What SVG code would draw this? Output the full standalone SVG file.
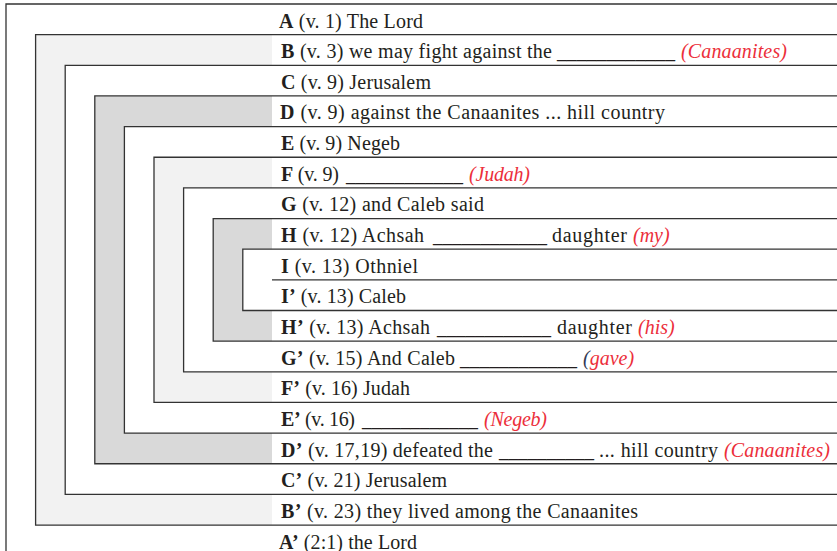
<svg xmlns="http://www.w3.org/2000/svg" width="837" height="551" viewBox="0 0 837 551">
<style>
text{font-family:"Liberation Serif","Times New Roman",serif;font-size:20px;fill:#231f20}
.b{font-weight:bold}
.r{fill:#ec2f3b;font-style:italic}
.ln{fill:none;stroke:#333;stroke-width:1.3}
.lg{fill:#f2f2f2}
.dg{fill:#d9d9d9}
.wh{fill:#fff}
</style>
<rect width="837" height="551" fill="#fff"/>
<g id="fills">
<rect class="lg" x="35.6" y="34.65" width="236.4" height="490.4"/>
<rect class="wh" x="65.2" y="65.3" width="206.8" height="429.1"/>
<rect class="dg" x="94.8" y="95.95" width="177.2" height="367.8"/>
<rect class="wh" x="124.4" y="126.6" width="147.6" height="306.5"/>
<rect class="lg" x="154" y="157.25" width="118" height="245.2"/>
<rect class="wh" x="183.6" y="187.9" width="88.4" height="183.9"/>
<rect class="dg" x="213.2" y="218.55" width="58.8" height="122.6"/>
<rect class="wh" x="242.8" y="249.2" width="29.2" height="61.3"/>
</g>
<g id="connectors">
<path class="ln" d="M837,4 H6 V551"/>
<path class="ln" d="M837,34.65 H35.6 V525.05 H837"/>
<path class="ln" d="M837,65.3 H65.2 V494.4 H837"/>
<path class="ln" d="M837,95.95 H94.8 V463.75 H837"/>
<path class="ln" d="M837,126.6 H124.4 V433.1 H837"/>
<path class="ln" d="M837,157.25 H154 V402.45 H837"/>
<path class="ln" d="M837,187.9 H183.6 V371.8 H837"/>
<path class="ln" d="M837,218.55 H213.2 V341.15 H837"/>
<path class="ln" d="M837,249.2 H242.8 V310.5 H837"/>
<path class="ln" d="M272,279.85 H837"/>
</g>
<g id="row-A"><text x="279" y="27.5" textLength="144"><tspan class="b">A</tspan> (v. 1) The Lord</text></g>
<g id="row-B"><text x="281" y="58.15" textLength="271"><tspan class="b">B</tspan> (v. 3) we may fight against the</text><text x="557" y="58.15" textLength="118" lengthAdjust="spacingAndGlyphs">____________</text><text class="r" x="681" y="58.15" textLength="106">(Canaanites)</text></g>
<g id="row-C"><text x="281" y="88.8" textLength="150"><tspan class="b">C</tspan> (v. 9) Jerusalem</text></g>
<g id="row-D"><text x="280" y="119.45" textLength="385"><tspan class="b">D</tspan> (v. 9) against the Canaanites ... hill country</text></g>
<g id="row-E"><text x="281" y="150.1" textLength="119"><tspan class="b">E</tspan> (v. 9) Negeb</text></g>
<g id="row-F"><text x="281" y="180.75" textLength="58"><tspan class="b">F</tspan> (v. 9)</text><text x="346" y="180.75" textLength="117" lengthAdjust="spacingAndGlyphs">____________</text><text class="r" x="469" y="180.75" textLength="61">(Judah)</text></g>
<g id="row-G"><text x="281" y="211.4" textLength="203"><tspan class="b">G</tspan> (v. 12) and Caleb said</text></g>
<g id="row-H"><text x="281" y="242.05" textLength="143"><tspan class="b">H</tspan> (v. 12) Achsah</text><text x="433" y="242.05" textLength="114" lengthAdjust="spacingAndGlyphs">____________</text><text x="552" y="242.05" textLength="75">daughter</text><text class="r" x="633" y="242.05">(my)</text></g>
<g id="row-I"><text x="281" y="272.7" textLength="137"><tspan class="b">I</tspan> (v. 13) Othniel</text></g>
<g id="row-I2"><text x="281" y="303.35" textLength="125"><tspan class="b">I’</tspan> (v. 13) Caleb</text></g>
<g id="row-H2"><text x="281" y="334" textLength="149"><tspan class="b">H’</tspan> (v. 13) Achsah</text><text x="437" y="334" textLength="114" lengthAdjust="spacingAndGlyphs">____________</text><text x="557" y="334" textLength="75">daughter</text><text class="r" x="638" y="334">(his)</text></g>
<g id="row-G2"><text x="281" y="364.65" textLength="174"><tspan class="b">G’</tspan> (v. 15) And Caleb</text><text x="460" y="364.65" textLength="117" lengthAdjust="spacingAndGlyphs">____________</text><text x="583" y="364.65"><tspan fill="#333a55" font-style="italic">(</tspan><tspan class="r">gave)</tspan></text></g>
<g id="row-F2"><text x="281" y="395.3" textLength="129"><tspan class="b">F’</tspan> (v. 16) Judah</text></g>
<g id="row-E2"><text x="281" y="425.95" textLength="74"><tspan class="b">E’</tspan> (v. 16)</text><text x="362" y="425.95" textLength="116" lengthAdjust="spacingAndGlyphs">____________</text><text class="r" x="484" y="425.95" textLength="63">(Negeb)</text></g>
<g id="row-D2"><text x="281" y="456.6" textLength="212"><tspan class="b">D’</tspan> (v. 17,19) defeated the</text><text x="499" y="456.6" textLength="95" lengthAdjust="spacingAndGlyphs">__________</text><text x="599" y="456.6" textLength="119">... hill country</text><text class="r" x="724" y="456.6" textLength="106">(Canaanites)</text></g>
<g id="row-C2"><text x="281" y="487.25" textLength="166"><tspan class="b">C’</tspan> (v. 21) Jerusalem</text></g>
<g id="row-B2"><text x="281" y="517.9" textLength="357"><tspan class="b">B’</tspan> (v. 23) they lived among the Canaanites</text></g>
<g id="row-A2"><text x="279" y="548.55" textLength="138"><tspan class="b">A’</tspan> (2:1) the Lord</text></g>
</svg>
